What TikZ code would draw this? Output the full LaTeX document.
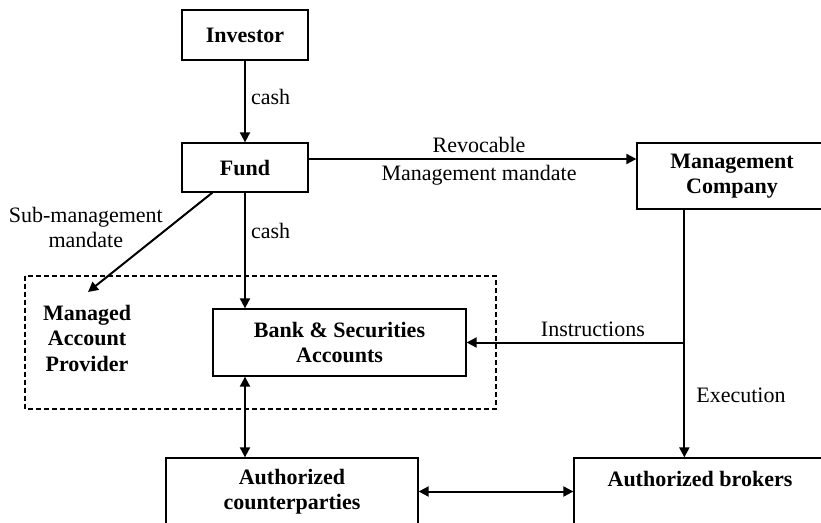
\documentclass[tikz,border=0pt]{standalone}
\usepackage{fontspec}
\setmainfont{Liberation Serif}
\usepackage{tikz}
\usetikzlibrary{arrows.meta}
\usetikzlibrary{calc}
\tikzset{b/.style={font=\bfseries\fontsize{22}{25.5}\selectfont, align=center, inner sep=0pt}}
\tikzset{box/.style={b, draw, line width=1.3pt}}
\tikzset{l/.style={font=\fontsize{22}{25.5}\selectfont, align=center, inner sep=5pt}}
\tikzset{w/.style={line width=2pt}}

\begin{document}
\begin{tikzpicture}[x=1pt, y=-1pt, >={Triangle[length=10pt,width=10pt]}]
    \useasboundingbox (0,0) rectangle (821,522);
    \clip (0,0) rectangle (821,522);
    % dashed frame round the account side
    \draw [line width=1.2pt, dash pattern=on 5pt off 3pt] (25,276) rectangle (496,409);
    \node [box, minimum width=126, minimum height=50] (inv) at (245,35) {Investor};
    \node [box, minimum width=126, minimum height=49] (fund) at (245,167.5) {Fund}
      edge [<-, w] node [right, l, pos=.55] {cash} (inv);
    \node [box, minimum width=190, minimum height=66] (mc) at (732,176) {Management\\Company};
    \node [box, minimum width=253, minimum height=67] (bank) at (339.5,342.5) {Bank \& Securities\\Accounts};
    \node [b] (map) at (87,338) {Managed\\Account\\Provider};
    \node [box, minimum width=252, minimum height=67] (cp) at (292,491.5) {Authorized\\counterparties};
    \node [box, minimum width=252, minimum height=67] (br) at (700,491.5) {Authorized brokers\\\mbox{}};
    \coordinate (fr) at ([yshift=8.5pt]fund.east);
    \coordinate (mcs) at ([xshift=48pt]mc.south west);
    \coordinate (mapTip) at (88,292);
    \draw [->, w] (fr) -- (fr -| mc.west)
      node [pos=.52, above, l] (rv) {Revocable}
      node [pos=.52, below, l] (mm) {Management mandate};
    \draw [->, w] ([xshift=31pt]fund.south west) -- (mapTip)
      node [pos=.35, left, l] (sm) {Sub-management\\mandate};
    \draw [->, w] (fund) -- (bank.north -| fund) node [pos=.33, right, l] (c2) {cash};
    \draw [->, w] (mcs) -- (mcs |- br.north) node [pos=.75, right=6pt, l] (ex) {Execution};
    \draw [->, w] (mcs |- bank.east) -- (bank.east) node [pos=.42, above, l] (ins) {Instructions};
    \draw [<->, w] (bank.south -| fund) -- (cp.north -| fund);
    \draw [<->, w] (cp.east) -- (cp.east -| br.west);
\end{tikzpicture}
\end{document}
